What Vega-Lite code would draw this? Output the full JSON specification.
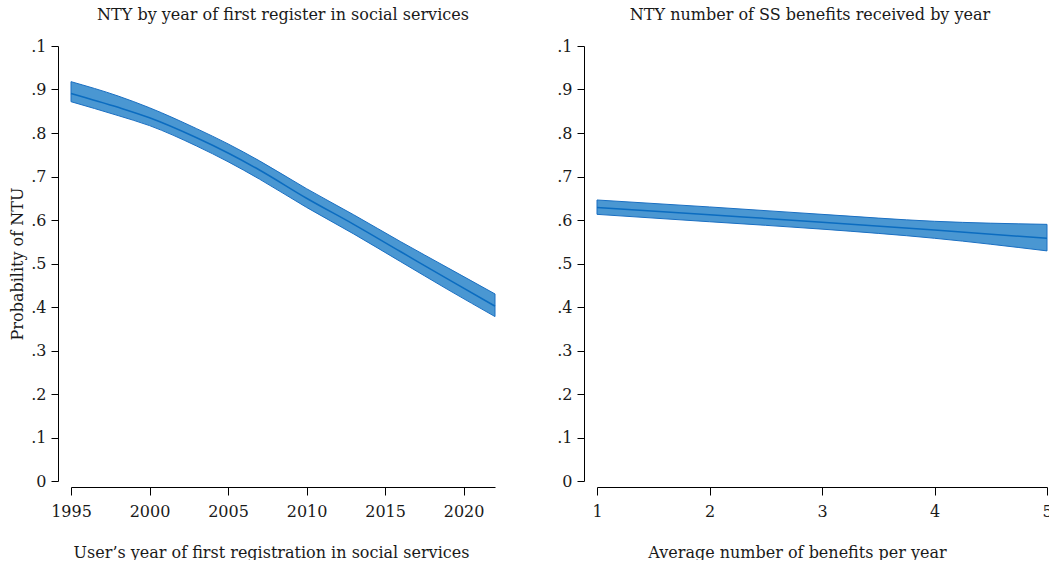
{
  "$schema": "https://vega.github.io/schema/vega-lite/v6.json",
  "background": "white",
  "padding": {"left": 9, "top": 7, "right": 0, "bottom": 0},
  "bounds": "flush",
  "spacing": 102,
  "datasets": {
    "left": [
      {"year": 1995, "est": 0.891, "lo": 0.872, "hi": 0.918},
      {"year": 1998, "est": 0.859, "lo": 0.840, "hi": 0.885},
      {"year": 2000, "est": 0.835, "lo": 0.817, "hi": 0.858},
      {"year": 2003, "est": 0.789, "lo": 0.770, "hi": 0.810},
      {"year": 2005, "est": 0.754, "lo": 0.734, "hi": 0.775},
      {"year": 2007, "est": 0.715, "lo": 0.694, "hi": 0.736},
      {"year": 2010, "est": 0.650, "lo": 0.629, "hi": 0.672},
      {"year": 2013, "est": 0.590, "lo": 0.568, "hi": 0.612},
      {"year": 2016, "est": 0.527, "lo": 0.504, "hi": 0.550},
      {"year": 2019, "est": 0.464, "lo": 0.440, "hi": 0.490},
      {"year": 2022, "est": 0.402, "lo": 0.378, "hi": 0.430}
    ],
    "right": [
      {"n": 1, "est": 0.629, "lo": 0.613, "hi": 0.646},
      {"n": 2, "est": 0.612, "lo": 0.596, "hi": 0.630},
      {"n": 3, "est": 0.595, "lo": 0.579, "hi": 0.613},
      {"n": 4, "est": 0.577, "lo": 0.558, "hi": 0.597},
      {"n": 5, "est": 0.558, "lo": 0.529, "hi": 0.590}
    ]
  },
  "config": {
    "view": {"stroke": null},
    "font": "DejaVu Serif",
    "title": {"font": "DejaVu Serif", "fontSize": 16, "fontWeight": "normal", "color": "#1a1a1a", "offset": 15},
    "axis": {
      "grid": false,
      "domainColor": "#000000",
      "tickColor": "#000000",
      "labelColor": "#1a1a1a",
      "titleColor": "#1a1a1a",
      "labelFont": "DejaVu Serif",
      "titleFont": "DejaVu Serif",
      "labelFontSize": 16,
      "titleFontSize": 16,
      "titleFontWeight": "normal",
      "labelFlush": false
    }
  },
  "hconcat": [
    {
      "width": 424,
      "height": 435,
      "title": "NTY by year of first register in social services",
      "data": {"name": "left"},
      "layer": [
        {
          "mark": {"type": "area", "interpolate": "monotone", "fill": "#4a97d2", "fillOpacity": 1, "stroke": "#1a6fc2", "strokeWidth": 1},
          "encoding": {
            "x": {"field": "year", "type": "quantitative", "scale": {"domain": [1995, 2022], "nice": false, "zero": false},
              "axis": {"values": [1995, 2000, 2005, 2010, 2015, 2020], "format": "d", "offset": 6, "tickSize": 8, "labelPadding": 8,
                "title": "User’s year of first registration in social services", "titlePadding": 25, "titleX": 200}},
            "y": {"field": "lo", "type": "quantitative", "scale": {"domain": [0, 1], "nice": false},
              "axis": {"values": [0, 0.1, 0.2, 0.3, 0.4, 0.5, 0.6, 0.7, 0.8, 0.9, 1],
                "labelExpr": "datum.value == 0 ? '0' : datum.value == 1 ? '.1' : replace(format(datum.value, '.1f'), '0.', '.')",
                "offset": 13, "tickSize": 7, "labelPadding": 5, "title": "Probability of NTU", "titlePadding": 5}},
            "y2": {"field": "hi"}
          }
        },
        {
          "mark": {"type": "line", "interpolate": "monotone", "color": "#0b6cc0", "strokeWidth": 1.5},
          "encoding": {
            "x": {"field": "year", "type": "quantitative"},
            "y": {"field": "est", "type": "quantitative"}
          }
        }
      ]
    },
    {
      "width": 450,
      "height": 435,
      "title": {"text": "NTY number of SS benefits received by year", "dx": -12},
      "data": {"name": "right"},
      "layer": [
        {
          "mark": {"type": "area", "interpolate": "monotone", "fill": "#4a97d2", "fillOpacity": 1, "stroke": "#1a6fc2", "strokeWidth": 1},
          "encoding": {
            "x": {"field": "n", "type": "quantitative", "scale": {"domain": [1, 5], "nice": false, "zero": false},
              "axis": {"values": [1, 2, 3, 4, 5], "format": "d", "offset": 6, "tickSize": 8, "labelPadding": 8,
                "title": "Average number of benefits per year", "titlePadding": 25, "titleX": 200}},
            "y": {"field": "lo", "type": "quantitative", "scale": {"domain": [0, 1], "nice": false},
              "axis": {"values": [0, 0.1, 0.2, 0.3, 0.4, 0.5, 0.6, 0.7, 0.8, 0.9, 1],
                "labelExpr": "datum.value == 0 ? '0' : datum.value == 1 ? '.1' : replace(format(datum.value, '.1f'), '0.', '.')",
                "offset": 13, "tickSize": 7, "labelPadding": 5, "title": null}},
            "y2": {"field": "hi"}
          }
        },
        {
          "mark": {"type": "line", "interpolate": "monotone", "color": "#0b6cc0", "strokeWidth": 1.5},
          "encoding": {
            "x": {"field": "n", "type": "quantitative"},
            "y": {"field": "est", "type": "quantitative"}
          }
        }
      ]
    }
  ]
}
